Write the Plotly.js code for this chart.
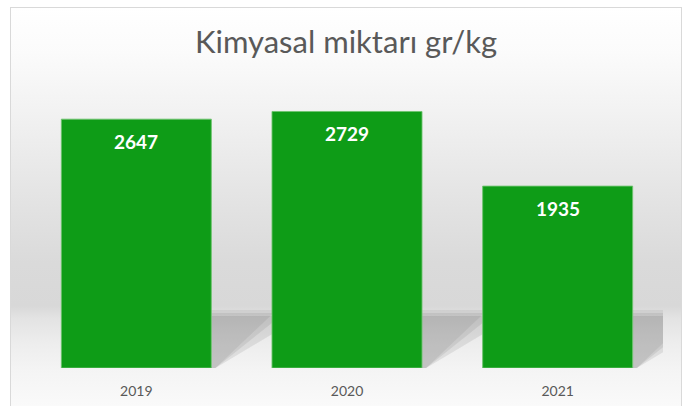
<!DOCTYPE html>
<html>
<head>
<meta charset="utf-8">
<script src="https://cdn.plot.ly/plotly-3.0.1.min.js"></script>
<style>
  html, body { margin: 0; padding: 0; background: #ffffff; width: 692px; height: 406px; overflow: hidden; }
  #frame {
    position: absolute; left: 10px; top: 7px; width: 672px; height: 420px;
    border: 1px solid #d9d9d9; box-sizing: border-box;
    background: linear-gradient(to bottom,
      #ffffff 0px, #fbfbfb 45px, #f0f0f0 115px, #e3e3e3 195px,
      #dadada 255px, #d8d8d8 298px, #e3e3e3 310px, #ededed 335px,
      #f4f4f4 361px, #fafafa 399px);
  }
  #chart { position: absolute; left: 0; top: 0; width: 692px; height: 406px; }
</style>
</head>
<body>
<div id="frame"></div>
<div id="chart"></div>
<script>
// ---- data ----
const categories = ["2019", "2020", "2021"];
const values = [2647, 2729, 1935];
const chartTitle = "Kimyasal miktarı gr/kg";

// ---- style ----
const barColor = "#0e9c17";
const textGrey = "#595959";
const bargap = 0.288;
const halfBar = (1 - bargap) / 2;
const idx = categories.map((c, i) => i);

// decorative shadow behind each bar (paper-fraction heights, category-unit widths)
const shapes = [];
const layers = [
  { top: 0.206, right: 0.19, op: 0.06 },
  { top: 0.195, right: 0.16, op: 0.07 },
  { top: 0.184, right: 0.12, op: 0.08 }
];
idx.forEach(i => {
  const x0 = i + halfBar;
  const x1 = i + 1 - halfBar;
  layers.forEach(L => {
    shapes.push({
      type: "path", xref: "x", yref: "paper", layer: "below",
      path: `M ${x0} 0 L ${x0} ${L.top} L ${x1} ${L.top} L ${x1} ${L.right} L ${x0 + 0.02} 0 Z`,
      fillcolor: "rgba(0,0,0," + L.op + ")", line: { width: 0 }
    });
  });
});

const annotations = idx.map(i => ({
  x: i, y: values[i], xref: "x", yref: "y",
  text: String(values[i]), showarrow: false,
  yshift: -22, yanchor: "middle",
  font: { family: "Lato, 'Open Sans', sans-serif", size: 19, color: "#ffffff", weight: 700 }
}));

const trace = {
  type: "bar",
  x: idx,
  y: values,
  width: 1 - bargap,
  marker: { color: barColor, line: { color: "rgba(110,195,110,0.9)", width: 1 } },
  hoverinfo: "skip"
};

const layout = {
  width: 692, height: 406,
  margin: { l: 31, r: 29, t: 86, b: 38, pad: 0 },
  paper_bgcolor: "rgba(0,0,0,0)",
  plot_bgcolor: "rgba(0,0,0,0)",
  showlegend: false,
  title: {
    text: chartTitle,
    x: 0.5, xanchor: "center",
    y: 0.897, yref: "container", yanchor: "middle",
    font: { family: "Lato, 'Open Sans', sans-serif", size: 31, color: textGrey }
  },
  xaxis: {
    type: "linear",
    range: [-0.5, categories.length - 0.5],
    tickmode: "array", tickvals: idx, ticktext: categories,
    showgrid: false, zeroline: false, showline: false, ticks: "",
    tickfont: { family: "Lato, 'Open Sans', sans-serif", size: 14, color: textGrey },
    ticklabelstandoff: 13
  },
  yaxis: {
    range: [0, 3000],
    visible: false, showgrid: false, zeroline: false
  },
  shapes: shapes,
  annotations: annotations
};

Plotly.newPlot("chart", [trace], layout, { staticPlot: true, displayModeBar: false });
</script>
</body>
</html>
